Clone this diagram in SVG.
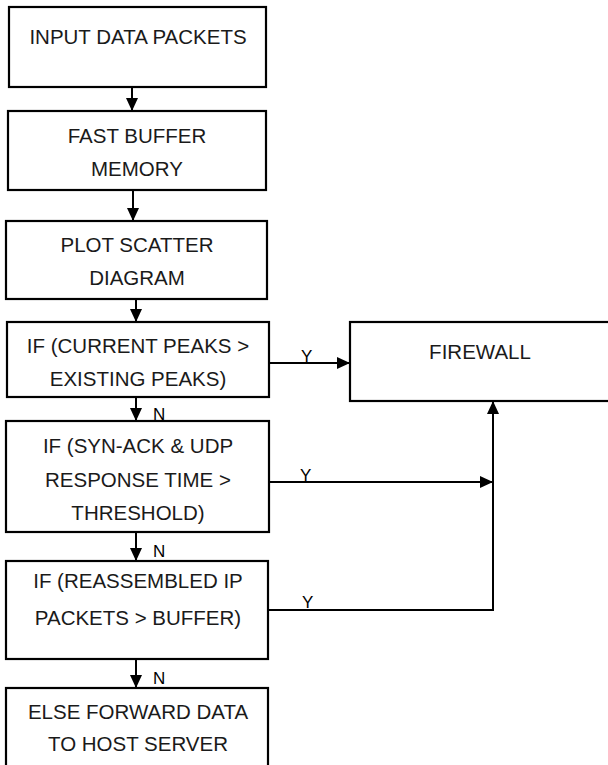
<svg xmlns="http://www.w3.org/2000/svg" width="608" height="765" viewBox="0 0 608 765">
<style>
.box{fill:#fff;stroke:#000;stroke-width:2.2}
.t{font-family:"Liberation Sans",Arial,sans-serif;font-size:20.5px;fill:#1a1a1a;text-anchor:middle}
.lbl{font-family:"Liberation Sans",Arial,sans-serif;font-size:17px;fill:#000}
.ln{fill:none;stroke:#000;stroke-width:2}
</style>
<defs>
<marker id="ah" markerWidth="13" markerHeight="12" refX="13" refY="6" orient="auto" markerUnits="userSpaceOnUse">
<path d="M0,0 L13,6 L0,12 Z" fill="#000"/>
</marker>
</defs>
<rect width="608" height="765" fill="#fff"/>
<g id="n1"><rect class="box" x="9" y="7" width="257" height="80"/><text class="t" x="138" y="44">INPUT DATA PACKETS</text></g>
<g id="n2"><rect class="box" x="8" y="111" width="258" height="79"/><text class="t" x="137" y="143">FAST BUFFER</text><text class="t" x="137" y="176">MEMORY</text></g>
<g id="n3"><rect class="box" x="6" y="221" width="261" height="78"/><text class="t" x="137" y="252">PLOT SCATTER</text><text class="t" x="137" y="285">DIAGRAM</text></g>
<g id="n4"><rect class="box" x="7" y="322" width="262" height="75"/><text class="t" x="138" y="353">IF (CURRENT PEAKS &gt;</text><text class="t" x="138" y="386">EXISTING PEAKS)</text></g>
<g id="n5"><rect class="box" x="6" y="421" width="263" height="111"/><text class="t" x="138" y="453">IF (SYN-ACK &amp; UDP</text><text class="t" x="138" y="487">RESPONSE TIME &gt;</text><text class="t" x="138" y="520">THRESHOLD)</text></g>
<g id="n6"><rect class="box" x="6" y="561" width="262" height="98"/><text class="t" x="138" y="588">IF (REASSEMBLED IP</text><text class="t" x="138" y="625">PACKETS &gt; BUFFER)</text></g>
<g id="n7"><rect class="box" x="6" y="688" width="262" height="90"/><text class="t" x="138" y="719">ELSE FORWARD DATA</text><text class="t" x="138" y="751">TO HOST SERVER</text></g>
<g id="firewall"><rect class="box" x="350" y="322" width="262" height="79"/><text class="t" x="480" y="359">FIREWALL</text></g>
<g id="connectors">
<line class="ln" x1="132" y1="87" x2="132" y2="111" marker-end="url(#ah)"/>
<line class="ln" x1="133" y1="190" x2="133" y2="221" marker-end="url(#ah)"/>
<line class="ln" x1="136" y1="299" x2="136" y2="322" marker-end="url(#ah)"/>
<line class="ln" x1="136" y1="397" x2="136" y2="421" marker-end="url(#ah)"/>
<line class="ln" x1="136" y1="532" x2="136" y2="561" marker-end="url(#ah)"/>
<line class="ln" x1="136" y1="659" x2="136" y2="688" marker-end="url(#ah)"/>
<line class="ln" x1="269" y1="363" x2="350" y2="363" marker-end="url(#ah)"/>
<line class="ln" x1="269" y1="482" x2="493" y2="482" marker-end="url(#ah)"/>
<polyline class="ln" points="268,610 493,610 493,401" marker-end="url(#ah)"/>
<text class="lbl" x="153" y="420">N</text>
<text class="lbl" x="153" y="557">N</text>
<text class="lbl" x="153" y="684">N</text>
<text class="lbl" x="301" y="362">Y</text>
<text class="lbl" x="300" y="481">Y</text>
<text class="lbl" x="302" y="608">Y</text>
</g>
</svg>
